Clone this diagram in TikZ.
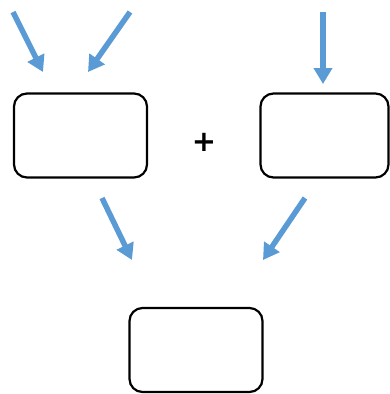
\documentclass[tikz,border=0pt]{standalone}
\usepackage{fontspec}
\newfontfamily\plusfont{DejaVu Sans}
\usetikzlibrary{arrows.meta}
\definecolor{arrowblue}{RGB}{91,155,213}
\tikzset{
  box/.style={draw=black, line width=2.2pt, rounded corners=13pt, minimum width=133pt, minimum height=84pt, inner sep=0pt},
  flow/.style={draw=arrowblue, line width=5.5pt, -{Triangle[length=16pt,width=18pt]}},
}
\begin{document}
\begin{tikzpicture}[x=1pt,y=-1pt]
\useasboundingbox (0,0) rectangle (390,394);
\node[box] (b1) at (80.5,135.5) {};
\node[box, minimum width=128pt] (b2) at (324.5,135.5) {};
\node[box] (b3) at (196,350) {};
\node (plus) at (204,142) {\plusfont\bfseries\fontsize{29}{29}\selectfont +};
\coordinate (s1) at (13,12);  \coordinate (t1) at (43,72);
\coordinate (s2) at (130,12); \coordinate (t2) at (88,72);
\coordinate (s3) at (323,12); \coordinate (t3) at (323,84);
\coordinate (s4) at (102,198); \coordinate (t4) at (132,260);
\coordinate (s5) at (305,198); \coordinate (t5) at (263,260);
\draw[flow] (s1) -- (t1);
\draw[flow] (s2) -- (t2);
\draw[flow] (s3) -- (t3);
\draw[flow] (s4) -- (t4);
\draw[flow] (s5) -- (t5);
\end{tikzpicture}
\end{document}
